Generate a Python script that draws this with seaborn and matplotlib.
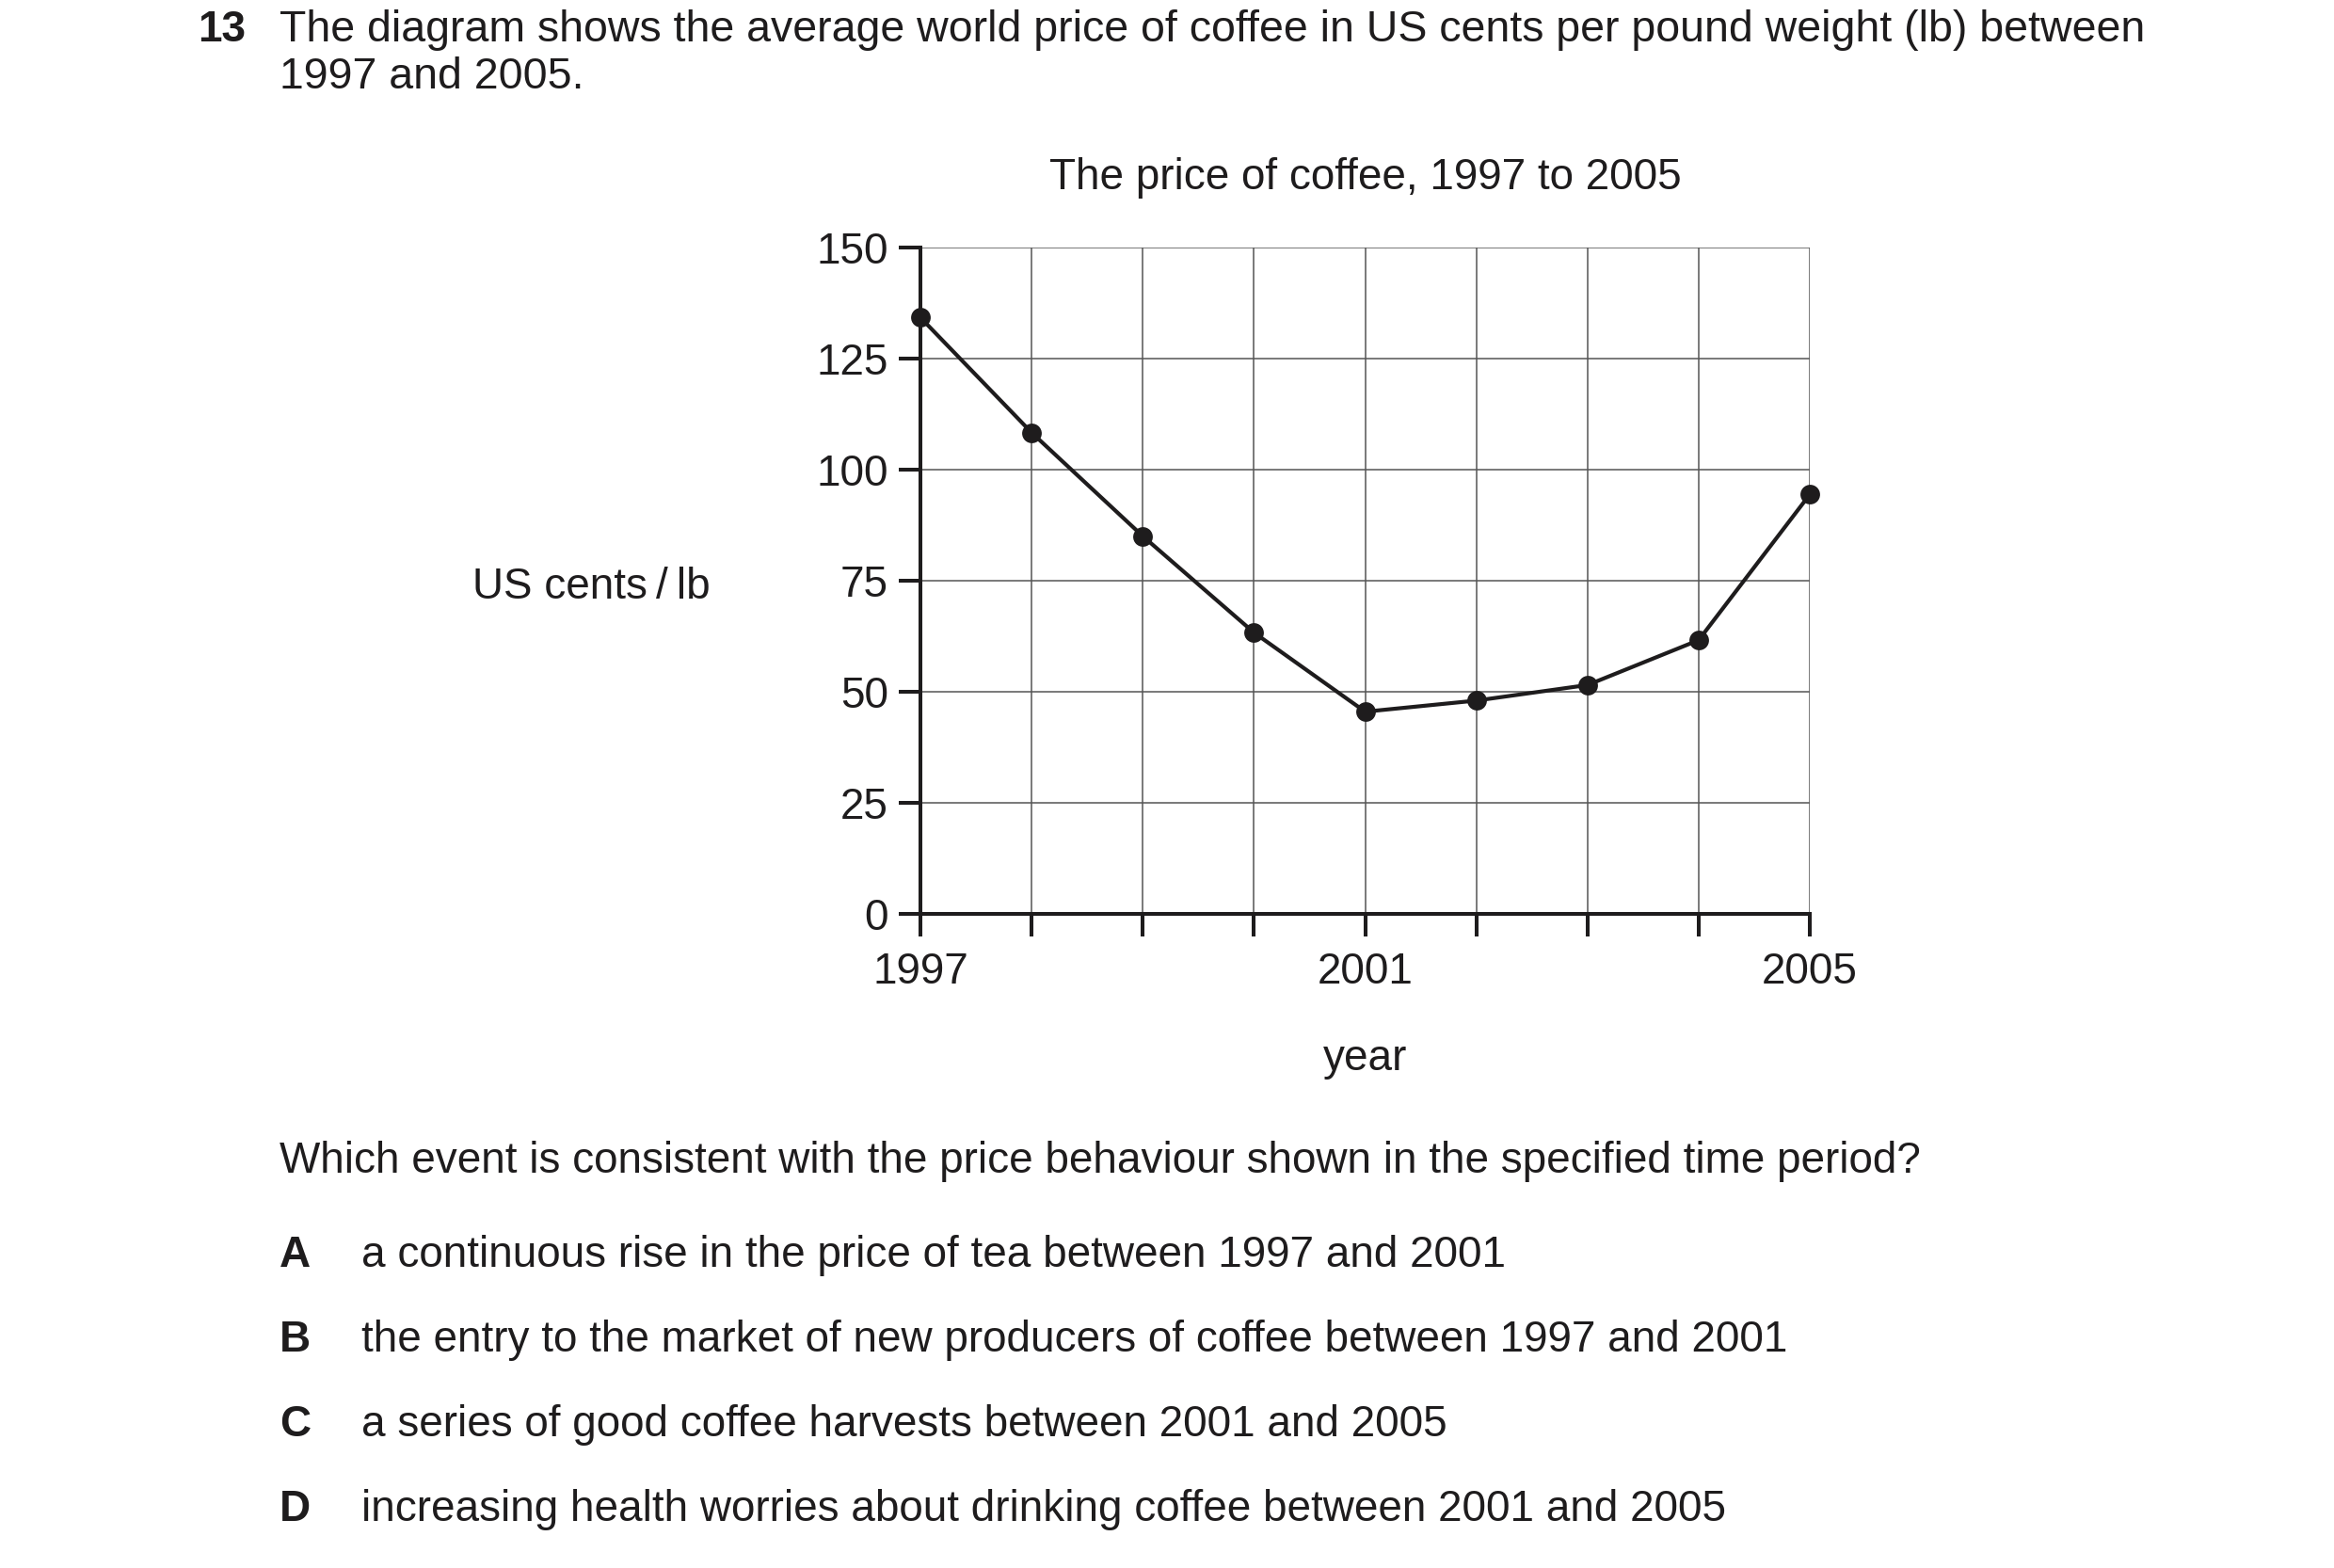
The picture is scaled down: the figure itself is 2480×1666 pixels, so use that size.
import matplotlib
matplotlib.use("Agg")
import matplotlib.pyplot as plt
import pandas as pd
import seaborn as sns

years = [1997, 1998, 1999, 2000, 2001, 2002, 2003, 2004, 2005]
price = [134.2, 108.3, 85.0, 63.3, 45.5, 48.0, 51.5, 61.6, 94.4]
y_ticks = [0, 25, 50, 75, 100, 125, 150]
x_labelled = [1997, 2001, 2005]

question_no = "13"
intro_lines = [
    "The diagram shows the average world price of coffee in US cents per pound weight (lb) between",
    "1997 and 2005.",
]
chart_title = "The price of coffee, 1997 to 2005"
question = "Which event is consistent with the price behaviour shown in the specified time period?"
option_keys = ["A", "B", "C", "D"]
option_texts = [
    "a continuous rise in the price of tea between 1997 and 2001",
    "the entry to the market of new producers of coffee between 1997 and 2001",
    "a series of good coffee harvests between 2001 and 2005",
    "increasing health worries about drinking coffee between 2001 and 2005",
]

INK = "#1e1c1d"
GRID = "#555555"
FS = 33

sns.set_style("white")
plt.rcParams["font.family"] = ["Liberation Sans", "DejaVu Sans"]
plt.rcParams["text.color"] = INK

df = pd.DataFrame({"year": years, "price": price})

fig = plt.figure(figsize=(24.8, 16.66), dpi=100)
ax = fig.add_axes([0.3944, 0.4172, 0.3810, 0.425])

sns.lineplot(
    data=df, x="year", y="price", marker="o", color=INK,
    linewidth=3.0, markersize=15, markeredgewidth=0, ax=ax, zorder=5,
    clip_on=False,
)

ax.set_xlim(years[0], years[-1])
ax.set_ylim(y_ticks[0], y_ticks[-1])
ax.set_xticks(years)
ax.set_xticklabels([str(y) if y in x_labelled else "" for y in years])
ax.set_yticks(y_ticks)
ax.grid(True, color=GRID, linewidth=1.1)
ax.set_axisbelow(True)

for side in ["top", "right"]:
    ax.spines[side].set_visible(False)
for side in ["left", "bottom"]:
    ax.spines[side].set_linewidth(2.9)
    ax.spines[side].set_color(INK)
    ax.spines[side].set_zorder(6)

ax.tick_params(axis="x", direction="out", length=17, width=2.9, color=INK,
               labelsize=FS, labelcolor=INK, pad=12, bottom=True)
ax.tick_params(axis="y", direction="out", length=16.5, width=2.9, color=INK,
               labelsize=FS, labelcolor=INK, pad=8, left=True)

ax.set_xlabel("year", fontsize=FS, color=INK, va="center")
ax.xaxis.set_label_coords(0.5, -0.218)
ax.set_ylabel("US cents\u2009/\u2009lb", fontsize=FS, color=INK, rotation=0,
              ha="left", va="center")
ax.yaxis.set_label_coords(-0.504, 0.49)
ax.text(0.5, 1.105, chart_title, transform=ax.transAxes, ha="center",
        va="center", fontsize=FS, color=INK)

# question text around the chart
fig.text(0.0847, 0.981, question_no, fontsize=FS, fontweight="bold", va="center")
fig.text(0.1198, 0.981, intro_lines[0], fontsize=33.5, va="center")
fig.text(0.1198, 0.9506, intro_lines[1], fontsize=33.5, va="center")
fig.text(0.1198, 0.2592, question, fontsize=FS, va="center")

option_y = [0.1993, 0.1453, 0.0913, 0.0372]
for key, text, yy in zip(option_keys, option_texts, option_y):
    fig.text(0.1198, yy, key, fontsize=FS, fontweight="bold", va="center")
    fig.text(0.1548, yy, text, fontsize=FS, va="center")

fig.savefig("out.png", dpi=100, facecolor="white")
